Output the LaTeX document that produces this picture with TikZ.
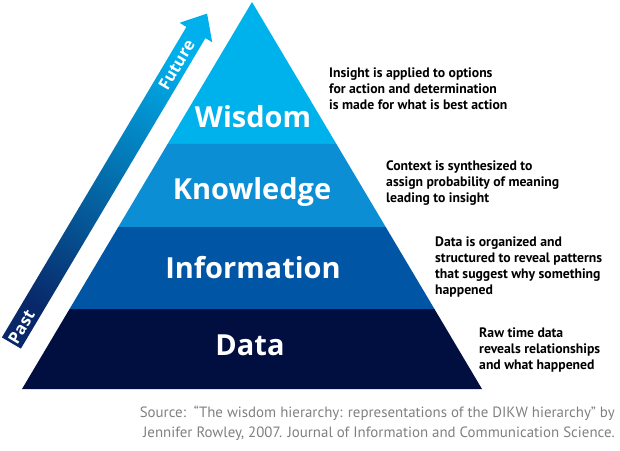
\documentclass[tikz,border=0pt]{standalone}
\usepackage{fontspec}
\setmainfont{PT Sans}
\newfontfamily\lvlfont{Open Sans}
\usetikzlibrary{calc}
\definecolor{cWis}{RGB}{0,178,236}
\definecolor{cKno}{RGB}{12,142,212}
\definecolor{cInf}{RGB}{0,85,165}
\definecolor{cDat}{RGB}{1,14,64}
\definecolor{arrLo}{RGB}{8,40,105}
\definecolor{arrMid}{RGB}{0,96,178}
\definecolor{arrHi}{RGB}{0,176,236}
\definecolor{srcGray}{RGB}{128,128,128}
\begin{document}
\begin{tikzpicture}[x=1pt,y=-1pt,
  level/.style={text=white,font=\lvlfont\bfseries\fontsize{29}{30}\selectfont,anchor=base,inner sep=0pt},
  note/.style={text=black,font=\bfseries\fontsize{13.7}{15.7}\selectfont,align=left,anchor=north west,inner sep=0pt},
  timelabel/.style={text=white,font=\lvlfont\bfseries\fontsize{16.5}{17}\selectfont,rotate=59.3,inner sep=0pt},
  source/.style={text=srcGray,font=\fontsize{14.9}{20}\selectfont,align=right,anchor=north east,inner sep=0pt}]
\useasboundingbox (0,0) rectangle (620,450);
% pyramid
\coordinate (A) at (252,2);
\coordinate (L) at (22,389);
\coordinate (R) at (482,389);
\coordinate (L1) at ($(A)!0.3669!(L)$);
\coordinate (R1) at ($(A)!0.3669!(R)$);
\coordinate (L2) at ($(A)!0.5814!(L)$);
\coordinate (R2) at ($(A)!0.5814!(R)$);
\coordinate (L3) at ($(A)!0.7933!(L)$);
\coordinate (R3) at ($(A)!0.7933!(R)$);
\fill[cWis] (A) -- (R1) -- (L1) -- cycle;
\fill[cKno] (L1) -- (R1) -- (R2) -- (L2) -- cycle;
\fill[cInf] (L2) -- (R2) -- (R3) -- (L3) -- cycle;
\fill[cDat] (L3) -- (R3) -- (R) -- (L) -- cycle;
% time arrow
\coordinate (s1) at (1.9,337.4);
\coordinate (s2) at (20.9,348.6);
\coordinate (h1) at (205.4,38.1);
\coordinate (h2) at (212.2,42.2);
\coordinate (tip) at (207.1,13.6);
\coordinate (h3) at (179.6,22.8);
\coordinate (h4) at (186.4,26.9);
\shade[bottom color=arrLo, middle color=arrMid, top color=arrHi, shading angle=-30.7]
  (s1) -- (s2) -- (h1) -- (h2) -- (tip) -- (h3) -- (h4) -- cycle;
\node[timelabel] (future) at (176.6,65) {Future};
\node[timelabel] (past) at (21.5,327) {Past};
% level names
\node[level] (wisdom) at (253,127) {Wisdom};
\node[level] (knowledge) at (252,199) {Knowledge};
\node[level] (information) at (253,278) {Information};
\node[level] (data) at (250,355) {Data};
% notes
\node[note] (n1) at (329,68) {Insight is applied to options\\for action and determination\\is made for what is best action};
\node[note] (n2) at (386,161) {Context is synthesized to\\assign probability of meaning\\leading to insight};
\node[note] (n3) at (435,237) {Data is organized and\\structured to reveal patterns\\that suggest why something\\happened};
\node[note] (n4) at (479,328) {Raw time data\\reveals relationships\\and what happened};
% source
\node[source] (src) at (615,406) {Source:\ \ “The wisdom hierarchy: representations of the DIKW hierarchy" by\\Jennifer Rowley, 2007. Journal of Information and Communication Science.};
\end{tikzpicture}
\end{document}
